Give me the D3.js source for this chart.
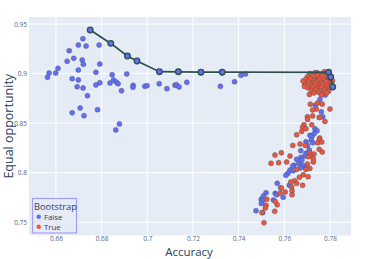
<!DOCTYPE html>
<html>
<head>
<meta charset="utf-8">
<script src="https://cdn.jsdelivr.net/npm/d3@7"></script>
<style>
  body { margin: 0; background: #fff; }
  text { font-family: "Open Sans", "DejaVu Sans", sans-serif; }
</style>
</head>
<body>
<div id="chart"></div>
<script>
// tick values
const xTicks = [0.66, 0.68, 0.7, 0.72, 0.74, 0.76, 0.78];
const yTicks = [0.75, 0.8, 0.85, 0.9, 0.95];

// Pareto frontier [accuracy, equal opportunity]
const frontier = [
  [0.6750, 0.9440], [0.6840, 0.9305], [0.6913, 0.9177], [0.6955, 0.9127],
  [0.7053, 0.9019], [0.7136, 0.9018], [0.7235, 0.9014], [0.7328, 0.9014],
  [0.7794, 0.9013], [0.7803, 0.8965], [0.7812, 0.8865]
];

// Bootstrap = False
const noBootstrap = [
  [0.6718, 0.9352], [0.6698, 0.9288], [0.6732, 0.9278], [0.6789, 0.9288], [0.6658, 0.9231],
  [0.6649, 0.9124], [0.6678, 0.9154], [0.6715, 0.9137], [0.6720, 0.9094], [0.6792, 0.9097],
  [0.6609, 0.9053], [0.6570, 0.9006], [0.6599, 0.9006], [0.6563, 0.8963], [0.6698, 0.9036],
  [0.6775, 0.9013], [0.6671, 0.8949], [0.6698, 0.8936], [0.6693, 0.8868], [0.6719, 0.8855],
  [0.6775, 0.8885], [0.6792, 0.8908], [0.6738, 0.8777], [0.6846, 0.8989], [0.6910, 0.8996],
  [0.6837, 0.8905], [0.6852, 0.8936], [0.6864, 0.8915], [0.6872, 0.8898], [0.6887, 0.8828],
  [0.6938, 0.8882], [0.6937, 0.8862], [0.6989, 0.8872], [0.6999, 0.8878], [0.7052, 0.8898],
  [0.7086, 0.8848], [0.7121, 0.8882], [0.7128, 0.8888], [0.7139, 0.8865], [0.7173, 0.8912],
  [0.7320, 0.8872], [0.7382, 0.8918], [0.7410, 0.8983], [0.7430, 0.8996], [0.6671, 0.8606],
  [0.6706, 0.8653], [0.6723, 0.8576], [0.6782, 0.8636], [0.6878, 0.8492], [0.6862, 0.8432],
  [0.7744, 0.9008], [0.7712, 0.8985], [0.7747, 0.8927], [0.7779, 0.8783], [0.7756, 0.8740],
  [0.7736, 0.8682], [0.7762, 0.8615], [0.7753, 0.8558], [0.7768, 0.8564], [0.7734, 0.8444],
  [0.7743, 0.8423], [0.7712, 0.8377], [0.7722, 0.8370], [0.7731, 0.8397], [0.7718, 0.8330],
  [0.7724, 0.8302], [0.7695, 0.8312], [0.7701, 0.8276], [0.7672, 0.8222], [0.7695, 0.8196],
  [0.7709, 0.8229], [0.7689, 0.8168], [0.7672, 0.8155], [0.7654, 0.8135], [0.7677, 0.8128],
  [0.7663, 0.8095], [0.7642, 0.8075], [0.7680, 0.8075], [0.7669, 0.8047], [0.7692, 0.8047],
  [0.7637, 0.8068], [0.7625, 0.8027], [0.7639, 0.8020], [0.7616, 0.7994], [0.7607, 0.7974],
  [0.7569, 0.7893], [0.7584, 0.7846], [0.7622, 0.7873], [0.7520, 0.7798], [0.7560, 0.7792],
  [0.7567, 0.7778], [0.7595, 0.7752], [0.7508, 0.7765], [0.7499, 0.7732], [0.7505, 0.7718],
  [0.7552, 0.7725], [0.7499, 0.7691], [0.7476, 0.7617], [0.7505, 0.7597]
];

// Bootstrap = True
const withBootstrap = [
  [0.7712, 0.9000], [0.7735, 0.9010], [0.7757, 0.8995], [0.7780, 0.9005], [0.7798, 0.8992],
  [0.7701, 0.8968], [0.7722, 0.8975], [0.7745, 0.8962], [0.7766, 0.8978], [0.7788, 0.8960],
  [0.7806, 0.8970], [0.7693, 0.8940], [0.7714, 0.8948], [0.7731, 0.8932], [0.7752, 0.8944],
  [0.7773, 0.8936], [0.7795, 0.8946], [0.7811, 0.8928], [0.7706, 0.8915], [0.7726, 0.8905],
  [0.7742, 0.8920], [0.7761, 0.8910], [0.7783, 0.8918], [0.7801, 0.8902], [0.7690, 0.8890],
  [0.7716, 0.8884], [0.7735, 0.8895], [0.7754, 0.8880], [0.7770, 0.8892], [0.7790, 0.8878],
  [0.7808, 0.8890], [0.7703, 0.8858], [0.7724, 0.8865], [0.7746, 0.8852], [0.7764, 0.8862],
  [0.7781, 0.8850], [0.7799, 0.8860], [0.7718, 0.8830], [0.7739, 0.8838], [0.7758, 0.8826],
  [0.7777, 0.8834], [0.7794, 0.8822], [0.7729, 0.8805], [0.7750, 0.8812], [0.7770, 0.8800],
  [0.7786, 0.8808], [0.7710, 0.8790], [0.7762, 0.8785], [0.7682, 0.8925], [0.7688, 0.8870],
  [0.7775, 0.9018], [0.7745, 0.8985],
  [0.7714, 0.8692], [0.7746, 0.8703], [0.7766, 0.8692], [0.7740, 0.8642], [0.7724, 0.8632],
  [0.7701, 0.8564], [0.7724, 0.8572], [0.7702, 0.8538], [0.7756, 0.8558], [0.7778, 0.8518],
  [0.7800, 0.8642], [0.7686, 0.8484], [0.7720, 0.8484], [0.7680, 0.8458], [0.7695, 0.8444],
  [0.7676, 0.8417], [0.7654, 0.8383], [0.7755, 0.8350], [0.7753, 0.8330], [0.7746, 0.8302],
  [0.7764, 0.8309], [0.7692, 0.8276], [0.7669, 0.8289], [0.7637, 0.8276], [0.7753, 0.8236],
  [0.7766, 0.8209], [0.7712, 0.8202], [0.7730, 0.8188], [0.7718, 0.8168], [0.7705, 0.8161],
  [0.7727, 0.8141], [0.7625, 0.8168], [0.7587, 0.8202], [0.7559, 0.8178], [0.7727, 0.8108],
  [0.7701, 0.8088], [0.7712, 0.8044], [0.7610, 0.8108], [0.7575, 0.8101], [0.7542, 0.8095],
  [0.7654, 0.8034], [0.7695, 0.8034], [0.7683, 0.7980], [0.7666, 0.7954], [0.7704, 0.7960],
  [0.7645, 0.7919], [0.7628, 0.7906], [0.7654, 0.7893], [0.7680, 0.7873], [0.7632, 0.7859],
  [0.7587, 0.7846], [0.7604, 0.7805], [0.7581, 0.7792], [0.7634, 0.7819], [0.7634, 0.7778],
  [0.7523, 0.7732], [0.7569, 0.7677], [0.7520, 0.7671], [0.7517, 0.7644], [0.7558, 0.7611],
  [0.7502, 0.7599], [0.7511, 0.7496], [0.7560, 0.7711]
];

const width = 374, height = 259;
const margin = { top: 17, right: 23, bottom: 23.5, left: 29 };
const blue = '#636efa', red = '#ef553b', frontColour = '#2f4f4f';

const svg = d3.select('#chart').append('svg')
  .attr('width', width)
  .attr('height', height);

const x = d3.scaleLinear().domain([0.6482, 0.7892]).range([margin.left, width - margin.right]);
const y = d3.scaleLinear().domain([0.7367, 0.9571]).range([height - margin.bottom, margin.top]);

// plot background
svg.append('rect')
  .attr('x', margin.left).attr('y', margin.top)
  .attr('width', width - margin.left - margin.right)
  .attr('height', height - margin.top - margin.bottom)
  .attr('fill', '#e5ecf6');

// grid
svg.append('g').selectAll('line').data(xTicks).enter().append('line')
  .attr('x1', (d) => x(d)).attr('x2', (d) => x(d))
  .attr('y1', margin.top).attr('y2', height - margin.bottom)
  .attr('stroke', '#fff').attr('stroke-width', 1);
svg.append('g').selectAll('line').data(yTicks).enter().append('line')
  .attr('y1', (d) => y(d)).attr('y2', (d) => y(d))
  .attr('x1', margin.left).attr('x2', width - margin.right)
  .attr('stroke', '#fff').attr('stroke-width', 1);

// axes (labels only)
const xAxis = svg.append('g')
  .attr('transform', `translate(0,${height - margin.bottom})`)
  .call(d3.axisBottom(x).tickValues(xTicks).tickSize(0).tickPadding(1).tickFormat(d3.format('')));
const yAxis = svg.append('g')
  .attr('transform', `translate(${margin.left},0)`)
  .call(d3.axisLeft(y).tickValues(yTicks).tickSize(0).tickPadding(2).tickFormat(d3.format('')));
[xAxis, yAxis].forEach((a) => {
  a.select('.domain').remove();
  a.selectAll('text').attr('fill', '#506784').attr('font-size', 6.5)
    .style('font-family', '"Open Sans", sans-serif');
});

// axis titles
svg.append('text')
  .attr('x', (margin.left + width - margin.right) / 2 - 1).attr('y', 255.5)
  .attr('text-anchor', 'middle').attr('font-size', 11.5).attr('fill', '#2a3f5f')
  .text('Accuracy');
svg.append('text')
  .attr('transform', `translate(13,${(margin.top + height - margin.bottom) / 2}) rotate(-90)`)
  .attr('text-anchor', 'middle').attr('font-size', 12.5).attr('fill', '#2a3f5f')
  .text('Equal opportunity');

// scatter points
function drawPoints(data, colour) {
  svg.append('g').selectAll('circle').data(data).enter().append('circle')
    .attr('cx', (d) => x(d[0])).attr('cy', (d) => y(d[1]))
    .attr('r', 2.5)
    .attr('fill', colour)
    .attr('stroke', '#4a5560').attr('stroke-opacity', 0.75).attr('stroke-width', 0.6);
}
drawPoints(noBootstrap, blue);
drawPoints(withBootstrap, red);

// frontier
svg.append('path')
  .datum(frontier)
  .attr('d', d3.line().x((d) => x(d[0])).y((d) => y(d[1])))
  .attr('fill', 'none').attr('stroke', frontColour).attr('stroke-width', 1.8);
svg.append('g').selectAll('circle').data(frontier).enter().append('circle')
  .attr('cx', (d) => x(d[0])).attr('cy', (d) => y(d[1]))
  .attr('r', 2.8)
  .attr('fill', blue)
  .attr('stroke', frontColour).attr('stroke-width', 1.3);

// legend
const legend = svg.append('g');
legend.append('rect')
  .attr('x', 32.5).attr('y', 198.5).attr('width', 44).attr('height', 34.5)
  .attr('fill', '#e5ecf6').attr('stroke', '#a39ef5').attr('stroke-width', 1.2);
legend.append('text').attr('x', 34).attr('y', 209.5)
  .attr('font-size', 9.3).attr('fill', '#2a3f5f').text('Bootstrap');
[['False', blue], ['True', red]].forEach(([label, colour], i) => {
  legend.append('circle').attr('cx', 38.7).attr('cy', 216.8 + i * 10)
    .attr('r', 2.2).attr('fill', colour);
  legend.append('text').attr('x', 44).attr('y', 219.6 + i * 10)
    .attr('font-size', 7.8).attr('fill', '#2a3f5f').text(label);
});
</script>
</body>
</html>
